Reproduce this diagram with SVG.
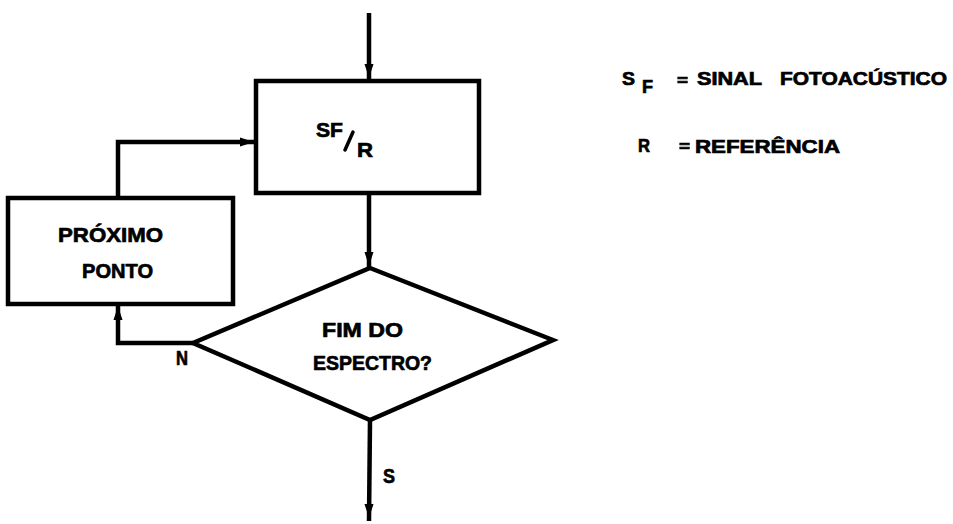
<svg xmlns="http://www.w3.org/2000/svg" xmlns:xlink="http://www.w3.org/1999/xlink" width="953" height="524" viewBox="0 0 953 524">
  <style>
    .shape { fill: #fff; stroke: #000; stroke-width: 4.5; stroke-linejoin: miter; }
    .line { fill: none; stroke: #000; stroke-width: 4.5; }
    .t { font-family: "Liberation Sans", Arial, sans-serif; font-weight: bold; fill: #000; stroke: #000; stroke-width: 0.7; }
  </style>
  <defs>
    <polygon id="ah" points="0,0 -4.5,-14 4.5,-14" fill="#000"/>
  </defs>
  <rect width="953" height="524" fill="#fff"/>

  <g id="connectors">
    <path class="line" d="M369,13 L369,81"/>
    <use xlink:href="#ah" transform="translate(369,78)"/>
    <path class="line" d="M369,193 L369,268"/>
    <use xlink:href="#ah" transform="translate(369,266)"/>
    <path class="line" d="M256,142 L118,142 L118,198"/>
    <use xlink:href="#ah" transform="translate(254,142) rotate(-90)"/>
    <path class="line" d="M193,343 L118,343 L118,304"/>
    <use xlink:href="#ah" transform="translate(118,306) rotate(180)"/>
    <path class="line" d="M370,420 L369,521"/>
    <use xlink:href="#ah" transform="translate(369,518)"/>
    <text class="t" x="176" y="365" font-size="20" textLength="12" lengthAdjust="spacingAndGlyphs">N</text>
    <text class="t" x="383" y="483" font-size="21" textLength="12" lengthAdjust="spacingAndGlyphs">S</text>
  </g>

  <g id="node-sfr">
    <rect class="shape" x="256" y="81" width="223" height="112"/>
    <text class="t" x="316" y="137" font-size="21" textLength="27" lengthAdjust="spacingAndGlyphs">SF</text>
    <line x1="345" y1="150" x2="353" y2="132" stroke="#000" stroke-width="3.5" stroke-linecap="round"/>
    <text class="t" x="357" y="157" font-size="21" textLength="16" lengthAdjust="spacingAndGlyphs">R</text>
  </g>

  <g id="node-proximo">
    <rect class="shape" x="8" y="198" width="225" height="106"/>
    <text class="t" x="58" y="242" font-size="21" textLength="105" lengthAdjust="spacingAndGlyphs">PRÓXIMO</text>
    <text class="t" x="82" y="278" font-size="21" textLength="71" lengthAdjust="spacingAndGlyphs">PONTO</text>
  </g>

  <g id="node-fim">
    <polygon class="shape" points="370,268 553,340 370,420 193,343"/>
    <text class="t" x="322" y="337" font-size="21" textLength="81" lengthAdjust="spacingAndGlyphs">FIM DO</text>
    <text class="t" x="313" y="370" font-size="21" textLength="119" lengthAdjust="spacingAndGlyphs">ESPECTRO?</text>
  </g>

  <g id="legend">
    <text class="t" x="622" y="85" font-size="18" textLength="13" lengthAdjust="spacingAndGlyphs">S</text>
    <text class="t" x="642" y="93" font-size="18" textLength="11" lengthAdjust="spacingAndGlyphs">F</text>
    <text class="t" x="677" y="86" font-size="16" textLength="11" lengthAdjust="spacingAndGlyphs">=</text>
    <text class="t" x="697" y="85" font-size="18" textLength="65" lengthAdjust="spacingAndGlyphs">SINAL</text>
    <text class="t" x="780" y="85" font-size="18" textLength="167" lengthAdjust="spacingAndGlyphs">FOTOACÚSTICO</text>
    <text class="t" x="638" y="152" font-size="19" textLength="12" lengthAdjust="spacingAndGlyphs">R</text>
    <text class="t" x="679" y="152" font-size="16" textLength="11" lengthAdjust="spacingAndGlyphs">=</text>
    <text class="t" x="695" y="153" font-size="19" textLength="145" lengthAdjust="spacingAndGlyphs">REFERÊNCIA</text>
  </g>
</svg>
